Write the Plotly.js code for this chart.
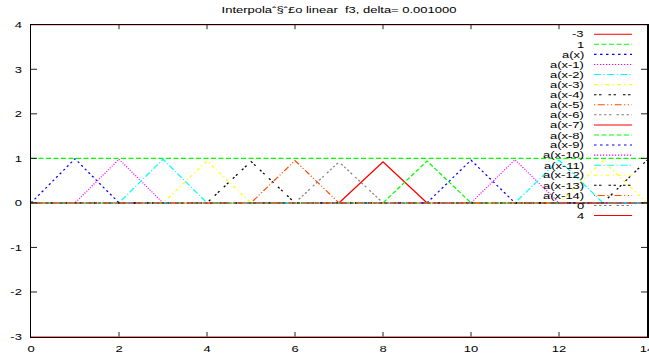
<!DOCTYPE html>
<html><head><meta charset="utf-8">
<script src="https://cdn.plot.ly/plotly-3.0.1.min.js"></script>
<style>
html,body{margin:0;padding:0;overflow:hidden;background:#fff;width:649px;height:359px}
#wrap{width:649px;height:479px;transform:scaleY(0.74948);transform-origin:0 0}
#chart{width:649px;height:479px}
</style></head>
<body><div id="wrap"><div id="chart"></div></div>
<script>
// ---- data ----
const titleText = 'Interpolaˆ§ˆ£o linear  f3, delta= 0.001000';
const xTickVals = [0, 2, 4, 6, 8, 10, 12, 14];
const xTickText = ['0', '2', '4', '6', '8', '10', '12', '14'];
const yTickVals = [-3, -2, -1, 0, 1, 2, 3, 4];
const yTickText = ['-3', '-2', '-1', '0', '1', '2', '3', '4'];
const headNames = ['-3', '1'];
const headValues = [-3, 1];
const triNames = ['a(x)', 'a(x-1)', 'a(x-2)', 'a(x-3)', 'a(x-4)', 'a(x-5)', 'a(x-6)', 'a(x-7)',
                  'a(x-8)', 'a(x-9)', 'a(x-10)', 'a(x-11)', 'a(x-12)', 'a(x-13)', 'a(x-14)'];
const triShifts = [0, 1, 2, 3, 4, 5, 6, 7, 8, 9, 10, 11, 12, 13, 14];
const triPeaks = [0.99, 0.98, 0.98, 0.94, 0.93, 0.95, 0.92, 0.92, 0.94, 0.96, 0.97, 0.96, 0.94, 0.96, 0];
const tailNames = ['0', '4'];
const tailValues = [0, 4];

// ---- styles (gnuplot postscript line types) ----
const palette = ['#ff0000', '#00ff00', '#0000ff', '#ff00ff', '#00ffff', '#ffff00', '#000000', '#ff4d00', '#808080'];
const dashes = ['solid', '5px,2.5px', '2.5px,3.5px', '1.2px,1.8px', '7px,2.5px,1.2px,2.5px',
                '3.5px,3.5px,1.2px,3.5px', '2.5px,2.5px,2.5px,7px', '1.2px,2.5px,7px,2.5px,1.2px,2.5px',
                '2.5px,2.5px,2.5px,2.5px,2.5px,2.5px,2.5px,5px'];
const FONT = 'Liberation Sans, Arial, sans-serif';
const X0 = 0, X1 = 14;

const traces = [];
const names = [];
function addTrace(name, xs, ys) {
  const i = names.length;
  names.push(name);
  traces.push({x: xs, y: ys, type: 'scatter', mode: 'lines', name: name, showlegend: false,
    line: {color: palette[i % 9], width: 1.4, dash: dashes[i % 9]}, hoverinfo: 'skip'});
}
headNames.forEach((n, k) => addTrace(n, [X0, X1], [headValues[k], headValues[k]]));
triNames.forEach((n, k) => {
  const s = triShifts[k], p = triPeaks[k];
  const pts = [[X0, 0], [s, 0], [s + 1, p], [s + 2, 0], [X1, 0]];
  const xs = [], ys = [];
  pts.forEach(([a, b]) => { if (a >= X0 && a <= X1 && (xs.length === 0 || a > xs[xs.length - 1])) { xs.push(a); ys.push(b); } });
  if (s + 2 > X1 && s + 1 < X1) { xs.push(X1); ys.push(p * (s + 2 - X1)); }
  addTrace(n, xs, ys);
});
tailNames.forEach((n, k) => addTrace(n, [X0, X1], [tailValues[k], tailValues[k]]));

// ---- custom gnuplot-style key (text right, sample left) ----
const W = 649, H = 479, mL = 31, mR = 2, mT = 33, mB = 30;
const pw = W - mL - mR, ph = H - mT - mB;
const annotations = [], shapes = [];
names.forEach((n, i) => {
  const ypx = 45.7 + 13.44 * i;
  const py = (H - mB - ypx) / ph;
  annotations.push({xref: 'paper', yref: 'paper', x: (586 - mL) / pw, y: py, xanchor: 'right', yanchor: 'middle',
    text: n, showarrow: false, font: {family: FONT, size: 13, color: '#000'}});
  shapes.push({type: 'line', xref: 'paper', yref: 'paper', x0: (594 - mL) / pw, x1: (632 - mL) / pw, y0: py, y1: py,
    line: {color: palette[i % 9], width: 1.4, dash: dashes[i % 9]}});
});

const axisCommon = {showgrid: false, zeroline: false, showline: true, linecolor: '#000', linewidth: 1.5,
  mirror: 'allticks', ticks: 'inside', ticklen: 6, tickcolor: '#000', tickwidth: 1,
  tickfont: {family: FONT, size: 13, color: '#000'}, automargin: false, fixedrange: true,
  ticklabeloverflow: 'allow'};

const layout = {
  width: W, height: H, margin: {l: mL, r: mR, t: mT, b: mB},
  paper_bgcolor: '#fff', plot_bgcolor: '#fff', showlegend: false,
  title: {text: titleText, font: {family: FONT, size: 13, color: '#000'}, xref: 'paper', x: 0.5, xanchor: 'center',
          yref: 'container', y: 1 - 13.3 / H, yanchor: 'middle'},
  xaxis: Object.assign({}, axisCommon, {range: [X0, X1], tickvals: xTickVals, ticktext: xTickText, ticklabelstandoff: 4}),
  yaxis: Object.assign({}, axisCommon, {range: [-3, 4], tickvals: yTickVals, ticktext: yTickText, ticklabelstandoff: 5}),
  annotations: annotations, shapes: shapes
};
Plotly.newPlot('chart', traces, layout, {staticPlot: true, displayModeBar: false});
</script>
</body></html>
